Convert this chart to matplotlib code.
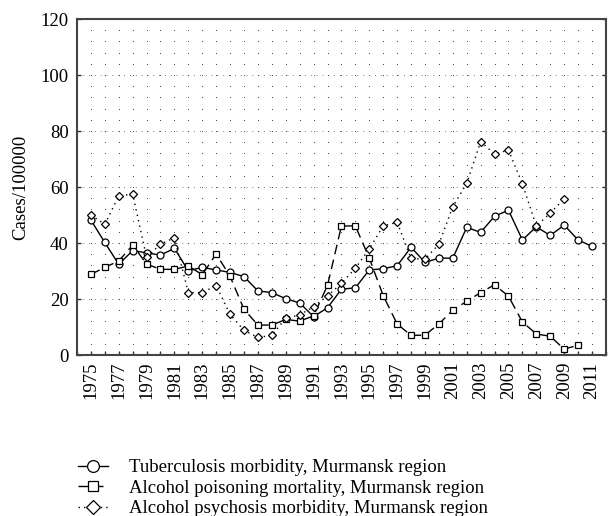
import numpy as np
import matplotlib
matplotlib.use("Agg")
import matplotlib.pyplot as plt
from matplotlib.ticker import MultipleLocator

plt.rcParams["font.family"] = ["Liberation Serif", "DejaVu Serif"]

# --- Data
years = list(range(1975, 2012))
tuberculosis = [48.2, 40.2, 32.4, 37.3, 36.5, 35.7, 38.1, 30.1, 31.3, 30.4,
                29.5, 28.0, 22.9, 22.3, 20.1, 18.6, 13.7, 16.9, 23.5, 24.0,
                30.4, 30.8, 31.9, 38.5, 33.1, 34.6, 34.6, 45.6, 43.8, 49.6,
                51.7, 41.1, 45.8, 42.7, 46.4, 41.1, 38.8]
poisoning_years = list(range(1975, 2011))
poisoning = [28.8, 31.3, 33.6, 39.3, 32.5, 30.6, 30.6, 31.8, 28.7, 36.1,
             28.1, 16.3, 10.7, 10.7, 12.7, 12.1, 14.0, 24.9, 46.1, 46.1,
             34.6, 21.2, 11.1, 7.0, 7.1, 11.1, 16.0, 19.2, 22.3, 25.1,
             21.0, 11.8, 7.5, 6.7, 2.1, 3.5]
psychosis_years = list(range(1975, 2010))
psychosis = [50.0, 46.7, 56.8, 57.5, 34.9, 39.6, 41.9, 22.3, 22.3, 24.8,
             14.5, 8.8, 6.3, 7.0, 13.2, 14.3, 17.3, 21.1, 25.6, 31.0,
             37.9, 46.1, 47.4, 34.5, 34.2, 39.6, 53.0, 61.3, 76.2, 71.8,
             73.2, 61.1, 46.1, 50.7, 55.8]

labels = ["Tuberculosis morbidity, Murmansk region",
          "Alcohol poisoning mortality, Murmansk region",
          "Alcohol psychosis morbidity, Murmansk region"]

fig = plt.figure(figsize=(6.08, 5.16), dpi=100)
ax = fig.add_axes([0.1266, 0.312, 0.87, 0.651])

# dotted lattice background
gx, gy = np.meshgrid(np.arange(1975, 2012), np.arange(0, 121, 4))
ax.scatter(gx.ravel(), gy.ravel(), s=0.5, c="#444444", linewidths=0, zorder=1)
for v in range(20, 120, 20):
    ax.axhline(v, color="#555555", lw=0.6, ls=(0, (1, 6)), zorder=1)

mk = dict(markerfacecolor="white", markeredgecolor="black", markeredgewidth=0.9,
          color="black", zorder=3)
ax.plot(years, tuberculosis, "-", marker="o", markersize=5, lw=1.0,
        label=labels[0], **mk)
ax.plot(poisoning_years, poisoning, marker="s", markersize=4.5, lw=1.0,
        ls=(0, (7, 4)), label=labels[1], **mk)
ax.plot(psychosis_years, psychosis, marker="D", markersize=4, lw=1.0,
        ls=(0, (1, 3)), label=labels[2], **mk)

ax.set_xlim(1974, 2012)
ax.set_ylim(0, 120)
ax.xaxis.set_minor_locator(MultipleLocator(1))
ax.set_xticks(range(1975, 2012, 2))
ax.set_yticks(range(0, 121, 20))
ax.tick_params(axis="x", which="both", direction="in", length=3, width=1,
               colors="#333333", labelcolor="black", labelsize=13.5,
               labelrotation=90, pad=5)
ax.tick_params(axis="y", direction="in", length=3, width=1, right=True,
               colors="#333333", labelcolor="black", labelsize=13.5, pad=6)
for s in ax.spines.values():
    s.set_color("#444444")
    s.set_linewidth(1.5)
ax.set_ylabel("Cases/100000", fontsize=13.5, labelpad=8)

fig.legend(loc="upper left", bbox_to_anchor=(0.11, 0.132),
           frameon=False, fontsize=13.5, handlelength=1.6, handletextpad=1.1,
           labelspacing=0.18, markerscale=1.7, borderaxespad=0.2)

fig.savefig("out.png", dpi=100)
